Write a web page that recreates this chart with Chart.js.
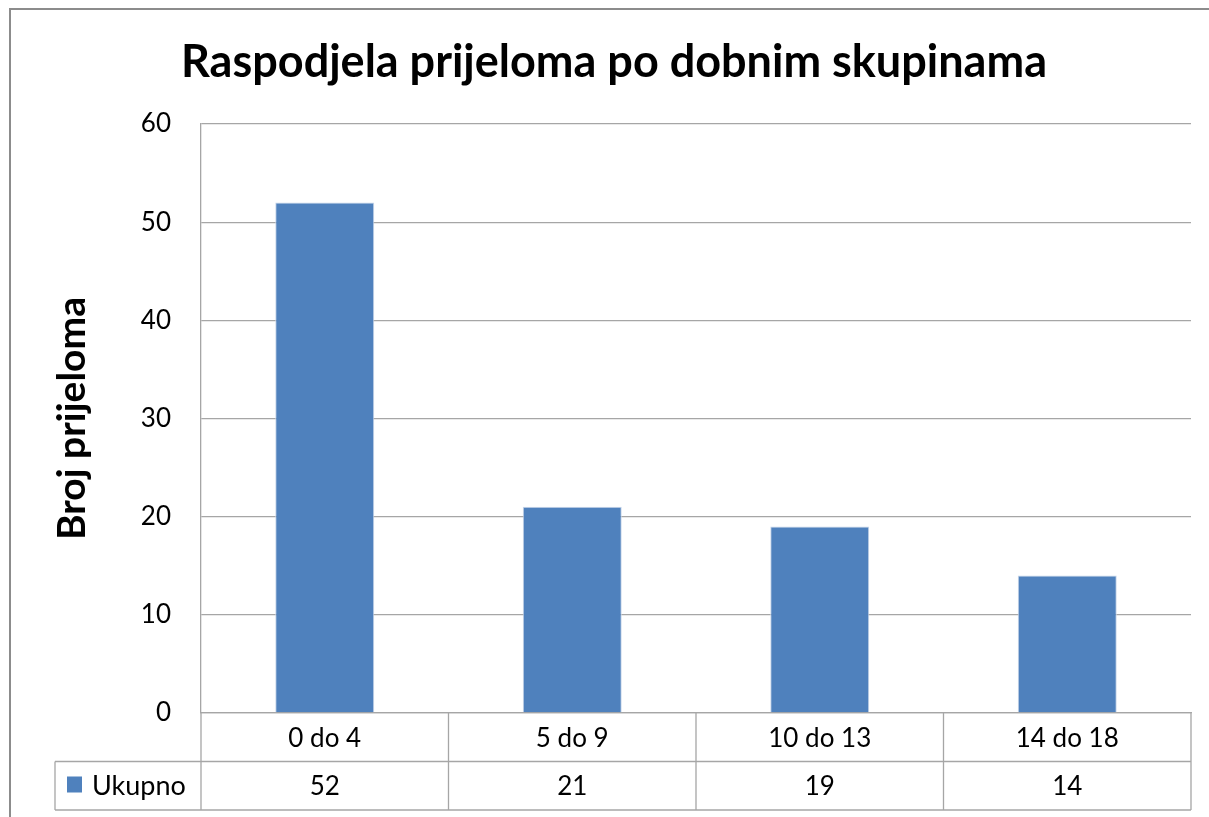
<!DOCTYPE html>
<html>
<head>
<meta charset="utf-8">
<script src="https://cdn.jsdelivr.net/npm/chart.js@4"></script>
<style>
  html, body { margin: 0; padding: 0; background: #fff; }
  #wrap { width: 1209px; height: 817px; }
</style>
</head>
<body>
<div id="wrap"><canvas id="chart"></canvas></div>
<script>
const categories = ["0 do 4", "5 do 9", "10 do 13", "14 do 18"];
const seriesName = "Ukupno";
const ukupno = [52, 21, 19, 14];
const yTicks = [0, 10, 20, 30, 40, 50, 60];

const FONT = "Lato, Carlito, Calibri, sans-serif";
const BAR_COLOR = "#4F81BD";
const LINE_COLOR = "#a6a6a6";

// frame, title and the data table under the plot
const excelBits = {
  id: "excelBits",
  afterDraw(chart) {
    const { ctx, chartArea } = chart;
    const x = chart.scales.x;
    const top = chartArea.bottom;
    const rowH = 48.5;
    const legendLeft = 55;

    ctx.save();
    // outer frame
    ctx.strokeStyle = "#8c8c8c";
    ctx.lineWidth = 2;
    ctx.strokeRect(10, 9, 1220, 840);

    // title
    ctx.fillStyle = "#000";
    ctx.font = "bold 45px " + FONT;
    ctx.textAlign = "center";
    ctx.textBaseline = "middle";
    ctx.fillText("Raspodjela prijeloma po dobnim skupinama", 614, 62);

    // table grid
    ctx.strokeStyle = LINE_COLOR;
    ctx.lineWidth = 1.3;
    ctx.beginPath();
    ctx.moveTo(legendLeft, top + rowH);
    ctx.lineTo(chartArea.right, top + rowH);
    ctx.moveTo(legendLeft, top + rowH * 2);
    ctx.lineTo(chartArea.right, top + rowH * 2);
    ctx.moveTo(legendLeft, top + rowH);
    ctx.lineTo(legendLeft, top + rowH * 2);
    ctx.moveTo(chartArea.left, top);
    ctx.lineTo(chartArea.left, top + rowH * 2);
    const step = (chartArea.right - chartArea.left) / categories.length;
    categories.forEach((c, i) => {
      const bx = chartArea.left + step * (i + 1);
      ctx.moveTo(bx, top);
      ctx.lineTo(bx, top + rowH * 2);
    });
    ctx.stroke();

    // texts
    ctx.fillStyle = "#000";
    ctx.font = "26px " + FONT;
    categories.forEach((c, i) => {
      const cx = x.getPixelForValue(i);
      ctx.fillText(c, cx, top + rowH / 2 + 1);
      ctx.fillText(String(ukupno[i]), cx, top + rowH * 1.5 + 1);
    });

    // legend key
    ctx.fillStyle = BAR_COLOR;
    ctx.fillRect(67, top + rowH + 15, 15, 16);
    ctx.fillStyle = "#000";
    ctx.textAlign = "left";
    ctx.font = "27px " + FONT;
    ctx.fillText(seriesName, 92, top + rowH * 1.5 + 1);
    ctx.restore();
  }
};

new Chart(document.getElementById("chart"), {
  type: "bar",
  data: {
    labels: categories,
    datasets: [{
      label: seriesName,
      data: ukupno,
      backgroundColor: BAR_COLOR,
      borderColor: "#c8d6ea",
      borderWidth: 1,
      barPercentage: 0.4,
      categoryPercentage: 1.0,
    }],
  },
  options: {
    responsive: true,
    maintainAspectRatio: false,
    animation: false,
    layout: {
      padding: { left: 0, right: 18, top: 124, bottom: 104 },
    },
    plugins: {
      legend: { display: false },
      title: { display: false },
      tooltip: { enabled: false },
    },
    scales: {
      x: {
        grid: { display: false, drawTicks: false },
        border: { color: LINE_COLOR, width: 1.3 },
        ticks: { display: false },
      },
      y: {
        min: 0,
        max: 60,
        afterBuildTicks: (scale) => {
          scale.ticks = yTicks.map((v) => ({ value: v }));
        },
        afterFit: (scale) => {
          scale.width = 201;
        },
        grid: { color: LINE_COLOR, lineWidth: 1.3, drawTicks: false },
        border: { color: LINE_COLOR, width: 1.3 },
        ticks: {
          padding: 30,
          color: "#000",
          font: { family: FONT, size: 26 },
        },
        title: {
          display: true,
          text: "Broj prijeloma",
          color: "#000",
          font: { family: FONT, size: 39, weight: "bold", lineHeight: 1 },
          padding: { top: 53, bottom: 0 },
        },
      },
    },
  },
  plugins: [excelBits],
});
</script>
</body>
</html>
